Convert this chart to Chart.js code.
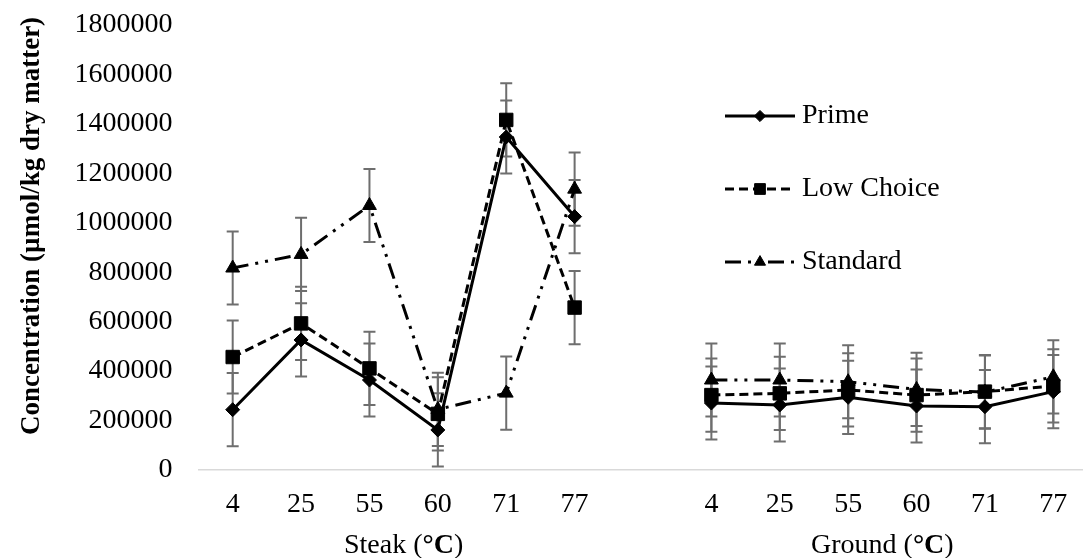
<!DOCTYPE html>
<html>
<head>
<meta charset="utf-8">
<script src="https://cdn.jsdelivr.net/npm/chart.js@4.4.1/dist/chart.umd.min.js"></script>
<style>
  html, body { margin: 0; padding: 0; background: #fff; overflow: hidden; }
  canvas { display: block; }
</style>
</head>
<body>
<canvas id="chart" width="1098" height="558"></canvas>
<script>
// ========================================
// DATA
// ========================================

const temps = ['4', '25', '55', '60', '71', '77'];
const groupNames = ['Steak', 'Ground'];
// steak temperatures, one empty slot, then ground temperatures
const categories = [...temps, '', ...temps];

const prime     = [244000, 526000, 364000, 162000, 1347000, 1025000, null, 271000, 263000, 294000, 259000, 256000, 317000];
const lowChoice = [457000, 593000, 411000, 227000, 1416000, 657000, null, 303000, 310000, 324000, 303000, 317000, 340000];
const standard  = [817000, 872000, 1070000, 245000, 311000, 1136000, null, 364000, 364000, 357000, 326000, 315000, 377000];

const primeErr     = [148000, 148000, 148000, 148000, 148000, 148000, null, 148000, 148000, 148000, 148000, 148000, 148000];
const lowChoiceErr = [148000, 148000, 148000, 148000, 148000, 148000, null, 148000, 148000, 148000, 148000, 148000, 148000];
const standardErr  = [148000, 148000, 148000, 148000, 148000, 148000, null, 148000, 148000, 148000, 148000, 148000, 148000];

const seriesLabels = ['Prime', 'Low Choice', 'Standard'];
const yMax = 1800000;
const yStep = 200000;
const yTitle = 'Concentration (\u00b5mol/kg dry matter)';

// ========================================
// STYLE
// ========================================

const SERIF = "'Liberation Serif', 'Times New Roman', serif";
const tickFont = { family: SERIF, size: 28 };
const ERR_COLOR = '#6e6e6e';

// ========================================
// PLUGINS
// ========================================

// vertical error bars with caps, under the lines
const errorBars = {
    id: 'errorBars',
    beforeDatasetsDraw(chart) {
        const { ctx, scales: { x, y } } = chart;
        ctx.save();
        ctx.strokeStyle = ERR_COLOR;
        ctx.lineWidth = 2;
        chart.data.datasets.forEach(ds => {
            ds.data.forEach((v, j) => {
                if (v == null) return;
                const err = ds.errorBars[j];
                const px = x.getPixelForValue(j);
                const top = y.getPixelForValue(v + err);
                const bot = y.getPixelForValue(v - err);
                ctx.beginPath();
                ctx.moveTo(px, top); ctx.lineTo(px, bot);
                ctx.moveTo(px - 6, top); ctx.lineTo(px + 6, top);
                ctx.moveTo(px - 6, bot); ctx.lineTo(px + 6, bot);
                ctx.stroke();
            });
        });
        ctx.restore();
    }
};

const markerPath = (ctx, style, cx, cy, r) => {
    ctx.beginPath();
    if (style === 'rectRot') {
        ctx.moveTo(cx - r, cy); ctx.lineTo(cx, cy - r);
        ctx.lineTo(cx + r, cy); ctx.lineTo(cx, cy + r);
    } else if (style === 'rect') {
        const s = r * Math.SQRT1_2;
        ctx.rect(cx - s, cy - s, 2 * s, 2 * s);
    } else {
        ctx.moveTo(cx, cy - r);
        ctx.lineTo(cx + r * 0.866, cy + r * 0.5);
        ctx.lineTo(cx - r * 0.866, cy + r * 0.5);
    }
    ctx.closePath();
};

// legend inside the plot, line sample with marker in the middle
const seriesLegend = {
    id: 'seriesLegend',
    afterDraw(chart) {
        const { ctx } = chart;
        const left = 725, len = 70, top = 116, gap = 73;
        ctx.save();
        chart.data.datasets.forEach((ds, i) => {
            const yy = top + i * gap;
            ctx.strokeStyle = '#000';
            ctx.lineWidth = ds.borderWidth;
            ctx.setLineDash(ds.borderDash || []);
            ctx.beginPath();
            ctx.moveTo(left, yy);
            ctx.lineTo(left + len, yy);
            ctx.stroke();
            ctx.setLineDash([]);
            ctx.fillStyle = '#000';
            ctx.lineWidth = 1;
            markerPath(ctx, ds.pointStyle, left + len / 2, yy, ds.pointRadius * 0.8);
            ctx.fill();
            ctx.stroke();
            ctx.font = `28px ${SERIF}`;
            ctx.textAlign = 'left';
            ctx.textBaseline = 'middle';
            ctx.fillText(ds.label, left + len + 7, yy);
        });
        ctx.restore();
    }
};

// group captions under the ticks and the rotated y title
const axisTexts = {
    id: 'axisTexts',
    afterDraw(chart) {
        const { ctx, scales: { x } } = chart;
        ctx.save();
        ctx.fillStyle = '#000';
        ctx.textBaseline = 'middle';
        ctx.textAlign = 'left';
        const normal = `28px ${SERIF}`;
        const bold = `bold 28px ${SERIF}`;
        groupNames.forEach((name, g) => {
            const i0 = g * (temps.length + 1);
            const cx = (x.getPixelForValue(i0 + 2) + x.getPixelForValue(i0 + 3)) / 2;
            const parts = [[name + ' (', normal], ['\u00b0C', bold], [')', normal]];
            let w = 0;
            parts.forEach(([t, f]) => { ctx.font = f; w += ctx.measureText(t).width; });
            let px = cx - w / 2;
            parts.forEach(([t, f]) => {
                ctx.font = f;
                ctx.fillText(t, px, 546);
                px += ctx.measureText(t).width;
            });
        });

        ctx.translate(32, 226);
        ctx.rotate(-Math.PI / 2);
        ctx.textAlign = 'center';
        ctx.font = `bold 27px ${SERIF}`;
        ctx.fillText(yTitle, 0, 0);
        ctx.restore();
    }
};

// ========================================
// CHART
// ========================================

const lineSet = (label, data, err, style, radius, dash) => ({
    label,
    data,
    errorBars: err,
    borderColor: '#000',
    backgroundColor: '#000',
    borderWidth: 3,
    borderDash: dash,
    pointStyle: style,
    pointRadius: radius,
    pointBackgroundColor: '#000',
    pointBorderColor: '#000',
    pointBorderWidth: 1,
    tension: 0,
    fill: false,
    spanGaps: false
});

new Chart(document.getElementById('chart'), {
    type: 'line',
    data: {
        labels: categories,
        datasets: [
            lineSet(seriesLabels[0], prime, primeErr, 'rectRot', 7, []),
            lineSet(seriesLabels[1], lowChoice, lowChoiceErr, 'rect', 9.5, [9, 5]),
            lineSet(seriesLabels[2], standard, standardErr, 'triangle', 8, [16, 7, 3, 7, 3, 7])
        ]
    },
    options: {
        responsive: false,
        animation: false,
        devicePixelRatio: 1,
        layout: { padding: { top: 25, right: 0, bottom: 0, left: 0 } },
        plugins: {
            legend: { display: false },
            tooltip: { enabled: false }
        },
        scales: {
            x: {
                offset: true,
                grid: { display: false, drawTicks: false },
                border: { display: true, color: '#d9d9d9', width: 1.5 },
                ticks: { autoSkip: false, maxRotation: 0, padding: 18, color: '#000', font: tickFont },
                afterFit: (s) => { s.height = 88; }
            },
            y: {
                min: 0,
                max: yMax,
                grid: { display: false, drawTicks: false },
                border: { display: false },
                ticks: { stepSize: yStep, padding: 26, color: '#000', font: tickFont, callback: (v) => String(v) },
                afterFit: (s) => {
                    s.width = 198.5;
                    // the tick padding should not push the plot area down
                    s.paddingTop = 0;
                    s.paddingBottom = 0;
                }
            }
        }
    },
    plugins: [errorBars, seriesLegend, axisTexts]
});
</script>
</body>
</html>
